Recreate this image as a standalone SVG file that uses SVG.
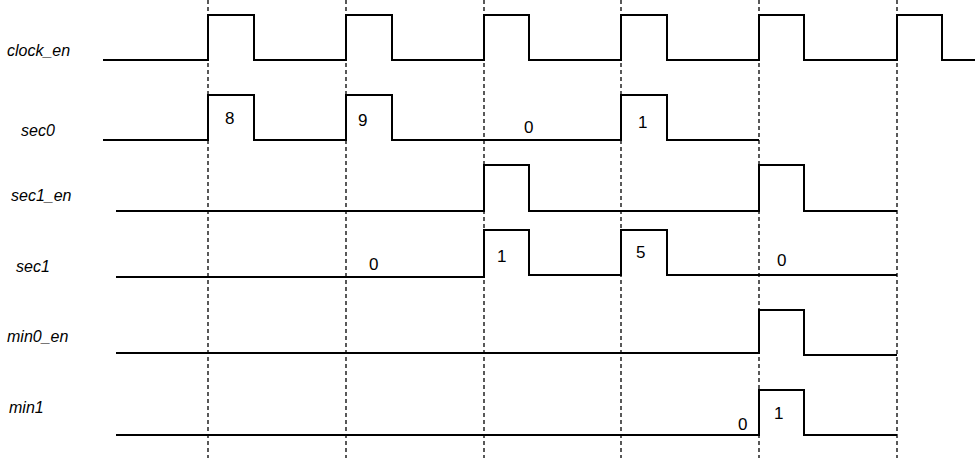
<svg xmlns="http://www.w3.org/2000/svg" width="975" height="458" viewBox="0 0 975 458">
<style>
.wave{fill:none;stroke:#000;stroke-width:2;stroke-linejoin:miter}
.grid{stroke:#000;stroke-width:1.3;stroke-dasharray:4 3}
.lbl{font-family:"Liberation Sans",Arial,sans-serif;font-size:16px;fill:#000;font-style:italic}
.val{font-family:"Liberation Sans",Arial,sans-serif;font-size:17px;fill:#000}
</style>
<rect width="975" height="458" fill="#fff"/>
<g id="connectors">
<line class="grid" x1="208" y1="0" x2="208" y2="458"/>
<line class="grid" x1="346" y1="0" x2="346" y2="458"/>
<line class="grid" x1="484" y1="0" x2="484" y2="458"/>
<line class="grid" x1="621" y1="0" x2="621" y2="458"/>
<line class="grid" x1="759" y1="0" x2="759" y2="458"/>
<line class="grid" x1="897" y1="0" x2="897" y2="458"/>
</g>
<g id="clock_en">
<text class="lbl" x="7" y="56">clock_en</text>
<path class="wave" d="M103 60H208V15H254V60H346V15H392V60H484V15H529V60H621V15H667V60H759V15H804V60H897V15H942V60H975"/>
</g>
<g id="sec0">
<text class="lbl" x="21" y="136">sec0</text>
<path class="wave" d="M103 140H208V95H254V140H346V95H392V140H621V95H667V140H759"/>
<text class="val" x="225" y="124">8</text>
<text class="val" x="358" y="126">9</text>
<text class="val" x="524" y="133">0</text>
<text class="val" x="638" y="128">1</text>
</g>
<g id="sec1_en">
<text class="lbl" x="11" y="201">sec1_en</text>
<path class="wave" d="M116 211H484V165H529V211H759V165H804V211H897"/>
</g>
<g id="sec1">
<text class="lbl" x="16" y="272">sec1</text>
<path class="wave" d="M116 277H484V230H529V275H621V230H667V275H897"/>
<text class="val" x="369" y="270">0</text>
<text class="val" x="497" y="262">1</text>
<text class="val" x="636" y="258">5</text>
<text class="val" x="777" y="266">0</text>
</g>
<g id="min0_en">
<text class="lbl" x="7" y="342">min0_en</text>
<path class="wave" d="M116 353H759V310H804V355H897"/>
</g>
<g id="min1">
<text class="lbl" x="9" y="413">min1</text>
<path class="wave" d="M116 435H759V390H804V435H897"/>
<text class="val" x="738" y="430">0</text>
<text class="val" x="774" y="419">1</text>
</g>
</svg>
